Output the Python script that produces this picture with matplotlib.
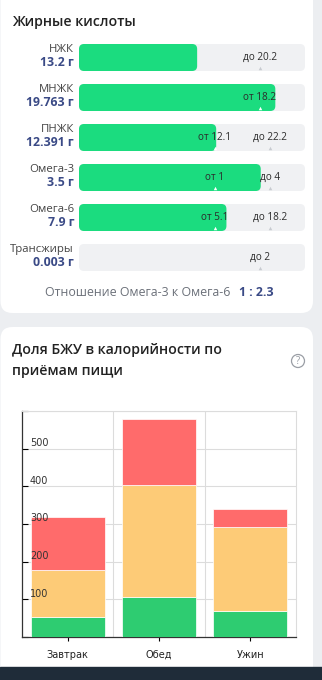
import numpy as np
import matplotlib
matplotlib.use("Agg")
import matplotlib.pyplot as plt
from matplotlib.patches import FancyBboxPatch, Rectangle, Circle
from matplotlib.transforms import blended_transform_factory

# ---- data: fatty acids card ----
fat_names = ['НЖК', 'МНЖК', 'ПНЖК', 'Омега-3', 'Омега-6', 'Трансжиры']
fat_values = [13.2, 19.763, 12.391, 3.5, 7.9, 0.003]
fat_value_labels = ['13.2 г', '19.763 г', '12.391 г', '3.5 г', '7.9 г', '0.003 г']
fat_lower = [None, 18.2, 12.1, 1, 5.1, None]
fat_upper = [20.2, None, 22.2, 4, 18.2, 2]
ratio_text = 'Отношение Омега-3 к Омега-6'
ratio_value = '1 : 2.3'

# ---- data: macro share per meal ----
meals = ['Завтрак', 'Обед', 'Ужин']
protein = [54, 107, 69]
fat = [124, 296, 222]
carbs = [140, 175, 50]
y_ticks = [100, 200, 300, 400, 500]

W, H = 322, 680
plt.rcParams['font.family'] = ['Open Sans', 'DejaVu Sans']
fig = plt.figure(figsize=(W / 100, H / 100), dpi=100)

# background / cards in pixel coordinates
bg = fig.add_axes([0, 0, 1, 1])
bg.set_xlim(0, W)
bg.set_ylim(H, 0)
bg.axis('off')
bg.add_patch(Rectangle((0, 0), W, H, color='#eceef1', zorder=0))
bg.add_patch(FancyBboxPatch((0.5, -20), 312.5, 333, boxstyle='round,pad=0,rounding_size=12',
                            fc='white', ec='none', zorder=1))
bg.add_patch(FancyBboxPatch((0.5, 327), 312.5, 360, boxstyle='round,pad=0,rounding_size=12',
                            fc='white', ec='none', zorder=1))
bg.add_patch(Rectangle((0, 667), W, 13, color='#1f2c39', zorder=5))

bg.text(12, 22, 'Жирные кислоты', fontsize=10.2, fontweight='semibold', color='#222222',
        va='center', ha='left', zorder=3)
bg.text(45, 293, ratio_text, fontsize=8.9, color='#6b7079', va='center', ha='left', zorder=3)
bg.text(239, 293, ratio_value, fontsize=8.8, fontweight='bold', color='#3a4a86',
        va='center', ha='left', zorder=3)

bg.text(12, 350, 'Доля БЖУ в калорийности по', fontsize=10.2, fontweight='semibold',
        color='#222222', va='center', ha='left', zorder=3)
bg.text(12, 371, 'приёмам пищи', fontsize=10.2, fontweight='semibold',
        color='#222222', va='center', ha='left', zorder=3)
bg.add_patch(Circle((298, 361), 6.5, fc='none', ec='#9a9ea5', lw=0.9, zorder=3))
bg.text(298, 361.5, '?', fontsize=7, color='#9a9ea5', ha='center', va='center', zorder=3)

# ---- fatty acid bars ----
track_l, track_w = 79, 226
row_h = 40
top = 37.5
ax1 = fig.add_axes([track_l / W, (H - top - row_h * 6) / H, track_w / W, row_h * 6 / H])
ax1.set_xlim(0, 1)
ax1.set_ylim(5.5, -0.5)
ax1.axis('off')
ax1.patch.set_alpha(0)

asp = (6 / (row_h * 6)) / (1 / track_w)
bar_h = 27 / row_h
rad = 5 / track_w


def scale_pos(v, lo, hi):
    # app places the norm markers at fixed spots on the track
    if lo is not None and hi is not None:
        xs, ps = [0, lo, hi], [0, 0.60, 0.845]
    elif hi is not None:
        xs, ps = [0, hi], [0, 0.80]
    else:
        xs, ps = [0, lo], [0, 0.80]
    if v <= xs[-1]:
        return float(np.interp(v, xs, ps))
    slope = (ps[-1] - ps[-2]) / (xs[-1] - xs[-2])
    return min(1.0, ps[-1] + (v - xs[-1]) * slope)


for i, name in enumerate(fat_names):
    ax1.add_patch(FancyBboxPatch((0, i - bar_h / 2), 1, bar_h,
                                 boxstyle=f'round,pad=0,rounding_size={rad}',
                                 mutation_aspect=asp, fc='#f0f1f3', ec='none', zorder=1))
    vpos = scale_pos(fat_values[i], fat_lower[i], fat_upper[i])
    if vpos * track_w > 2:
        ax1.add_patch(FancyBboxPatch((0, i - bar_h / 2), vpos, bar_h,
                                     boxstyle=f'round,pad=0,rounding_size={min(rad, vpos / 2)}',
                                     mutation_aspect=asp, fc='#1bdc7f', ec='none', zorder=2))
    for bound, word in ((fat_lower[i], 'от'), (fat_upper[i], 'до')):
        if bound is None:
            continue
        bpos = scale_pos(bound, fat_lower[i], fat_upper[i])
        ax1.text(bpos, i, f'{word} {bound:g}', fontsize=7.2, color='#2b2b2b',
                 ha='center', va='center', zorder=4)
        mc = 'white' if bpos < vpos else '#c8cbd0'
        ax1.plot(bpos, i + bar_h / 2 - 0.07, marker='^', ms=2.5, color=mc, mew=0, zorder=3)
    ax1.text(-0.022, i - 0.19, name, fontsize=8.2, color='#444444', ha='right', va='center')
    ax1.text(-0.022, i + 0.12, fat_value_labels[i], fontsize=8.8, fontweight='bold',
             color='#3a4a86', ha='right', va='center')

# ---- stacked bar chart ----
ax2 = fig.add_axes([22 / W, (H - 637) / H, 274 / W, 226 / H])
x = np.arange(len(meals))
bw = 0.81
kw = dict(width=bw, edgecolor='white', linewidth=0.5, zorder=3)
ax2.bar(x, protein, color='#2ecc71', **kw)
ax2.bar(x, fat, bottom=protein, color='#fdcb77', **kw)
ax2.bar(x, carbs, bottom=np.add(protein, fat), color='#ff6b6b', **kw)
ax2.set_xlim(-0.5, 2.5)
ax2.set_ylim(0, 600)
ax2.set_yticks(range(0, 601, 100))
ax2.set_yticklabels([])
ax2.set_xticks(x)
ax2.set_xticklabels(meals)
ax2.set_xticks([0.5, 1.5], minor=True)
ax2.grid(axis='y', which='major', color='#dcdcdc', lw=0.8, zorder=0)
ax2.grid(axis='x', which='minor', color='#dcdcdc', lw=0.8, zorder=0)
ax2.tick_params(axis='x', which='minor', length=0)
ax2.tick_params(axis='x', which='major', direction='out', length=3, width=0.8,
                labelsize=7, labelcolor='#222222', pad=6)
ax2.tick_params(axis='y', direction='in', length=4, width=0.8)
# value labels sit inside the plot, on top of the bars
tr = blended_transform_factory(ax2.transAxes, ax2.transData)
for t in y_ticks:
    ax2.text(8 / 274, t + 1.5, str(t), transform=tr, fontsize=7, color='#333333',
             family='DejaVu Sans', ha='left', va='bottom', zorder=6)
for lab in ax2.get_xticklabels():
    lab.set_family('DejaVu Sans')
for s in ('top', 'right'):
    ax2.spines[s].set_color('#dcdcdc')
    ax2.spines[s].set_linewidth(0.8)
for s in ('left', 'bottom'):
    ax2.spines[s].set_color('#333333')
    ax2.spines[s].set_linewidth(0.9)

fig.savefig('out.png', dpi=100)
